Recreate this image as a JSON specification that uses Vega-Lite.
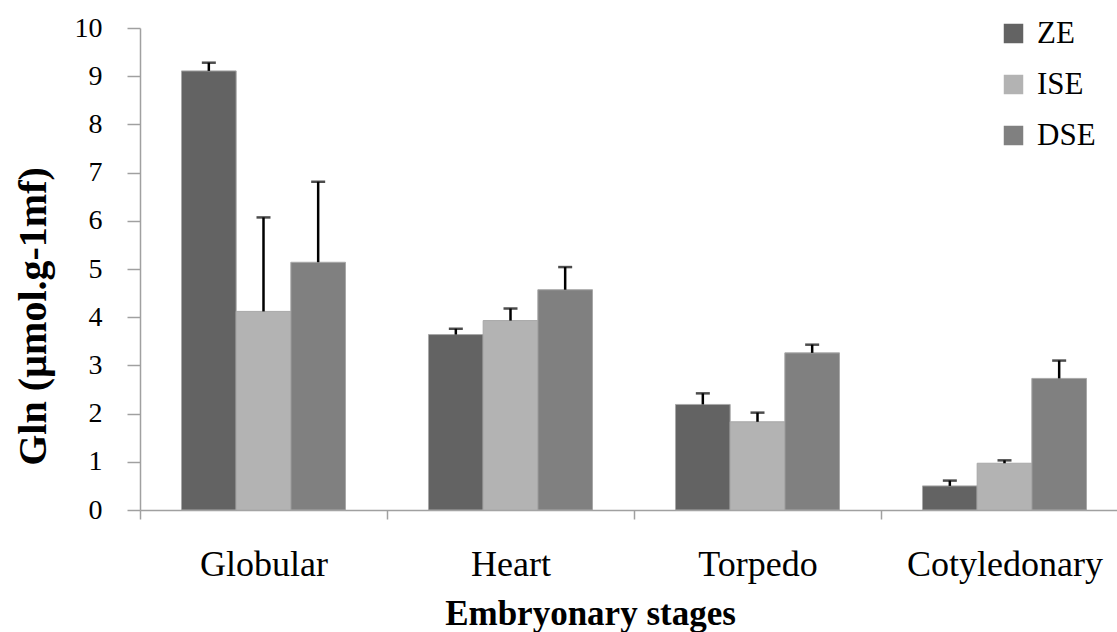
{
  "$schema": "https://vega.github.io/schema/vega-lite/v6.json",
  "width": 988,
  "height": 482,
  "autosize": {"type": "none"},
  "padding": {"left": 140, "top": 28, "right": 0, "bottom": 122},
  "background": "white",
  "config": {"font": "Liberation Serif", "view": {"stroke": null}},
  "data": {
    "values": [
      {"stage": "Globular", "type": "ZE", "value": 9.11, "upper": 9.28},
      {"stage": "Globular", "type": "ISE", "value": 4.12, "upper": 6.07},
      {"stage": "Globular", "type": "DSE", "value": 5.14, "upper": 6.81},
      {"stage": "Heart", "type": "ZE", "value": 3.64, "upper": 3.76},
      {"stage": "Heart", "type": "ISE", "value": 3.93, "upper": 4.18},
      {"stage": "Heart", "type": "DSE", "value": 4.57, "upper": 5.04},
      {"stage": "Torpedo", "type": "ZE", "value": 2.19, "upper": 2.42},
      {"stage": "Torpedo", "type": "ISE", "value": 1.83, "upper": 2.02},
      {"stage": "Torpedo", "type": "DSE", "value": 3.26, "upper": 3.43},
      {"stage": "Cotyledonary", "type": "ZE", "value": 0.5, "upper": 0.61},
      {"stage": "Cotyledonary", "type": "ISE", "value": 0.97, "upper": 1.03},
      {"stage": "Cotyledonary", "type": "DSE", "value": 2.73, "upper": 3.1}
    ]
  },
  "encoding": {
    "x": {
      "field": "stage",
      "type": "nominal",
      "sort": ["Globular", "Heart", "Torpedo", "Cotyledonary"],
      "scale": {"paddingInner": 0.336, "paddingOuter": 0.168},
      "axis": {
        "title": "Embryonary stages",
        "titleFont": "Liberation Serif",
        "titleFontSize": 35,
        "titleFontWeight": "bold",
        "titleColor": "black",
        "titleX": 450,
        "titleY": 114,
        "titleBaseline": "alphabetic",
        "labelFont": "Liberation Serif",
        "labelFontSize": 36,
        "labelColor": "black",
        "labelAngle": 0,
        "labelBaseline": "alphabetic",
        "labelPadding": 56,
        "labelLimit": 0,
        "labelOverlap": false,
        "tickOffset": -123.5,
        "labelOffset": 123.5,
        "tickSize": 9,
        "tickColor": "#a0a0a0",
        "domainColor": "#a0a0a0",
        "domainWidth": 1.5,
        "tickWidth": 1.5
      }
    },
    "xOffset": {"field": "type", "type": "nominal", "sort": ["ZE", "ISE", "DSE"]}
  },
  "layer": [
    {
      "mark": {"type": "bar", "stroke": "#a8a8a8", "strokeWidth": 1},
      "encoding": {
        "y": {
          "field": "value",
          "type": "quantitative",
          "scale": {"domain": [0, 10], "nice": false},
          "axis": {
            "title": "Gln (µmol.g-1mf)",
            "titleFont": "Liberation Serif",
            "titleFontSize": 40,
            "titleFontWeight": "bold",
            "titleColor": "black",
            "titleX": -107,
            "titleY": 288,
            "titleBaseline": "middle",
            "values": [0, 1, 2, 3, 4, 5, 6, 7, 8, 9, 10],
            "labelFont": "Liberation Serif",
            "labelFontSize": 28,
            "labelColor": "black",
            "labelPadding": 25,
            "tickSize": 13,
            "tickColor": "#a0a0a0",
            "domainColor": "#a0a0a0",
            "domainWidth": 1.5,
            "tickWidth": 1.5,
            "grid": false
          }
        },
        "color": {
          "field": "type",
          "type": "nominal",
          "sort": ["ZE", "ISE", "DSE"],
          "scale": {"domain": ["ZE", "ISE", "DSE"], "range": ["#636363", "#b3b3b3", "#808080"]},
          "legend": {
            "title": null,
            "orient": "none",
            "legendX": 858,
            "legendY": -10,
            "padding": 0,
            "symbolType": "square",
            "symbolSize": 380,
            "symbolStrokeWidth": 0,
            "labelFont": "Liberation Serif",
            "labelFontSize": 31,
            "labelColor": "black",
            "labelOffset": 8,
            "rowPadding": 19
          }
        }
      }
    },
    {
      "mark": {"type": "rule", "color": "black", "strokeWidth": 2.5},
      "encoding": {
        "y": {"field": "value", "type": "quantitative"},
        "y2": {"field": "upper"}
      }
    },
    {
      "mark": {"type": "tick", "color": "black", "thickness": 2.5, "size": 14, "orient": "horizontal"},
      "encoding": {
        "y": {"field": "upper", "type": "quantitative"}
      }
    }
  ]
}
